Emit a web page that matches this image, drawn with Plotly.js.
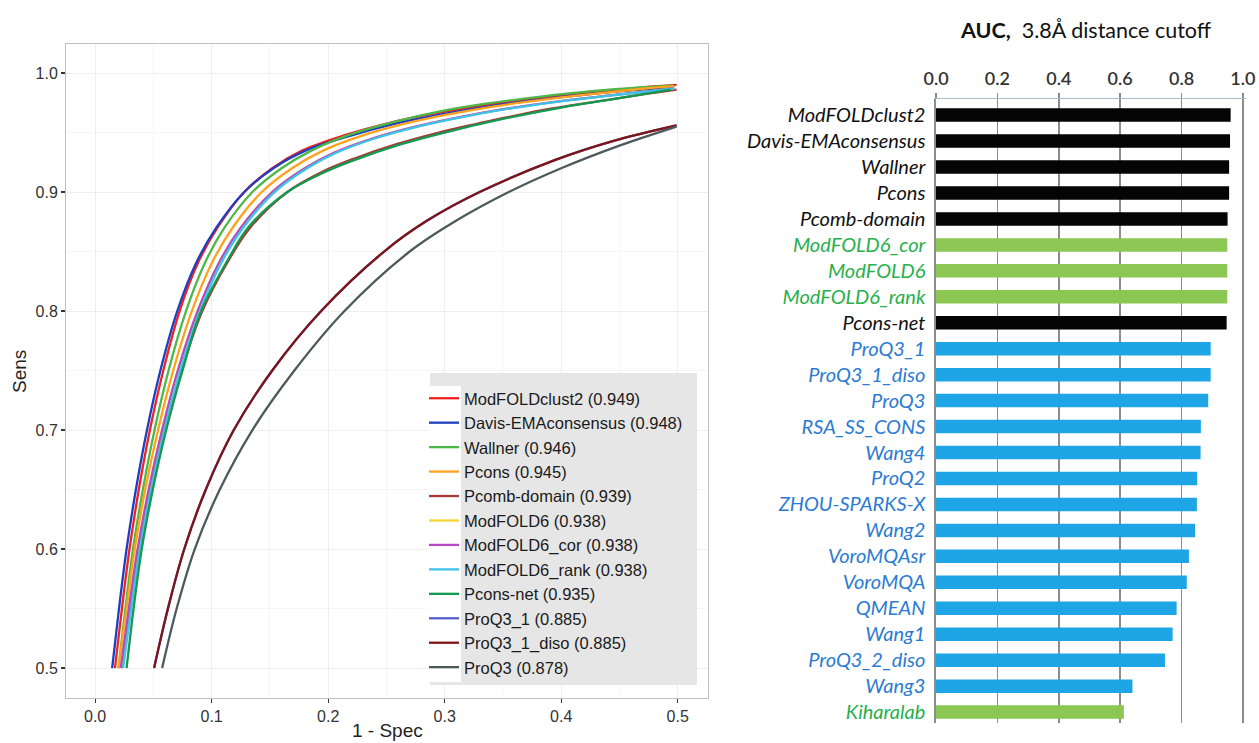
<!DOCTYPE html>
<html>
<head>
<meta charset="utf-8">
<script src="https://cdn.plot.ly/plotly-3.0.1.min.js"></script>
<style>
html,body{margin:0;padding:0;background:#fff;}
#chart{width:1259px;height:743px;}
</style>
</head>
<body>
<div id="chart"></div>
<script>
// ---------- Left panel: ROC curves (x = 1 - Spec, y = Sens) ----------
const curveNames = ["ModFOLDclust2","Davis-EMAconsensus","Wallner","Pcons","Pcomb-domain","ModFOLD6","ModFOLD6_cor","ModFOLD6_rank","Pcons-net","ProQ3_1","ProQ3_1_diso","ProQ3"];
const curveAUC = ["0.949","0.948","0.946","0.945","0.939","0.938","0.938","0.938","0.935","0.885","0.885","0.878"];
const curveColors = ["#ee2222","#1f3fbf","#4db848","#ffa21e","#a83a34","#f7d330","#b54bc2","#3ec3ea","#139a52","#5561c8","#7d1416","#4d5a5c"];

const modfoldclust2X = [0.017,0.023,0.0295,0.0375,0.047,0.0585,0.0725,0.088,0.105,0.128,0.152,0.178,0.215,0.252,0.292,0.335,0.382,0.428,0.470,0.499];
const modfoldclust2Y = [0.500,0.550,0.600,0.650,0.700,0.750,0.800,0.840,0.870,0.900,0.920,0.935,0.948,0.958,0.966,0.973,0.979,0.984,0.988,0.990];
const davisX = [0.0146,0.0205,0.027,0.035,0.0445,0.056,0.0705,0.0865,0.104,0.128,0.153,0.181,0.218,0.256,0.296,0.338,0.385,0.431,0.469,0.497];
const davisY = [0.500,0.550,0.600,0.650,0.700,0.750,0.800,0.840,0.870,0.900,0.920,0.935,0.947,0.957,0.965,0.972,0.978,0.983,0.986,0.988];
const wallnerX = [0.020,0.026,0.0325,0.041,0.051,0.063,0.078,0.094,0.111,0.135,0.160,0.186,0.218,0.253,0.292,0.334,0.381,0.428,0.468,0.496];
const wallnerY = [0.500,0.550,0.600,0.650,0.700,0.750,0.800,0.840,0.870,0.900,0.920,0.935,0.948,0.958,0.967,0.974,0.980,0.985,0.988,0.9895];
const pconsX = [0.020,0.027,0.034,0.043,0.054,0.067,0.083,0.100,0.118,0.143,0.169,0.196,0.228,0.264,0.302,0.343,0.388,0.433,0.472,0.497];
const pconsY = [0.500,0.550,0.600,0.650,0.700,0.750,0.800,0.840,0.870,0.900,0.920,0.935,0.947,0.957,0.965,0.972,0.978,0.983,0.987,0.989];
const pcombX = [0.023,0.030,0.037,0.047,0.059,0.074,0.092,0.113,0.133,0.165,0.195,0.222,0.258,0.295,0.340,0.385,0.430,0.470,0.499];
const pcombY = [0.500,0.550,0.600,0.650,0.700,0.750,0.800,0.840,0.870,0.900,0.917,0.928,0.940,0.950,0.960,0.969,0.976,0.982,0.986];
const modfold6X = [0.022,0.029,0.0365,0.046,0.0575,0.071,0.088,0.106,0.125,0.152,0.180,0.205,0.238,0.275,0.313,0.353,0.396,0.440,0.478,0.497];
const modfold6Y = [0.500,0.550,0.600,0.650,0.700,0.750,0.800,0.840,0.870,0.900,0.920,0.933,0.945,0.955,0.963,0.970,0.976,0.981,0.985,0.987];
const modfold6corX = [0.022,0.029,0.0365,0.046,0.0575,0.071,0.088,0.106,0.125,0.152,0.180,0.205,0.238,0.275,0.313,0.353,0.396,0.440,0.478,0.497];
const modfold6corY = [0.500,0.550,0.600,0.650,0.700,0.750,0.800,0.840,0.870,0.900,0.920,0.933,0.945,0.955,0.963,0.970,0.976,0.981,0.985,0.987];
const modfold6rankX = [0.024,0.031,0.0385,0.048,0.0595,0.073,0.090,0.108,0.127,0.154,0.182,0.207,0.240,0.277,0.315,0.355,0.398,0.442,0.479,0.497];
const modfold6rankY = [0.500,0.550,0.600,0.650,0.700,0.750,0.800,0.840,0.870,0.900,0.920,0.933,0.945,0.955,0.963,0.970,0.976,0.981,0.985,0.987];
const pconsnetX = [0.027,0.033,0.040,0.0495,0.061,0.075,0.091,0.115,0.132,0.165,0.193,0.220,0.262,0.300,0.348,0.400,0.450,0.494];
const pconsnetY = [0.500,0.550,0.600,0.650,0.700,0.750,0.800,0.845,0.871,0.900,0.915,0.926,0.940,0.950,0.961,0.971,0.979,0.986];
const proq31X = [0.0506,0.0625,0.0765,0.095,0.119,0.152,0.194,0.248,0.285,0.330,0.395,0.445,0.499];
const proq31Y = [0.500,0.550,0.600,0.650,0.700,0.750,0.800,0.850,0.876,0.900,0.927,0.943,0.956];
const proq31disoX = [0.0506,0.0625,0.0765,0.095,0.119,0.152,0.194,0.248,0.285,0.330,0.395,0.445,0.499];
const proq31disoY = [0.500,0.550,0.600,0.650,0.700,0.750,0.800,0.850,0.876,0.900,0.927,0.943,0.956];
const proq3X = [0.0575,0.070,0.0855,0.107,0.135,0.171,0.214,0.270,0.310,0.355,0.400,0.450,0.499];
const proq3Y = [0.500,0.550,0.600,0.650,0.700,0.750,0.800,0.850,0.876,0.900,0.920,0.939,0.955];

const curveXs = [modfoldclust2X,davisX,wallnerX,pconsX,pcombX,modfold6X,modfold6corX,modfold6rankX,pconsnetX,proq31X,proq31disoX,proq3X];
const curveYs = [modfoldclust2Y,davisY,wallnerY,pconsY,pcombY,modfold6Y,modfold6corY,modfold6rankY,pconsnetY,proq31Y,proq31disoY,proq3Y];

// ---------- Right panel: AUC bars ----------
const methods = ["ModFOLDclust2","Davis-EMAconsensus","Wallner","Pcons","Pcomb-domain","ModFOLD6_cor","ModFOLD6","ModFOLD6_rank","Pcons-net","ProQ3_1","ProQ3_1_diso","ProQ3","RSA_SS_CONS","Wang4","ProQ2","ZHOU-SPARKS-X","Wang2","VoroMQAsr","VoroMQA","QMEAN","Wang1","ProQ3_2_diso","Wang3","Kiharalab"];
const aucValues = [0.960,0.958,0.955,0.955,0.950,0.949,0.949,0.949,0.947,0.895,0.895,0.887,0.863,0.862,0.851,0.850,0.844,0.824,0.817,0.784,0.771,0.746,0.640,0.612];
const methodGroup = ["k","k","k","k","k","g","g","g","k","b","b","b","b","b","b","b","b","b","b","b","b","b","b","g"];
const xTicks = [0.0,0.2,0.4,0.6,0.8,1.0];

const barColor = {k:"#050505", g:"#8cc653", b:"#1ea5e6"};
const labelColor = {k:"#111111", g:"#27b04c", b:"#2b7bd2"};

const W = 1259, H = 743;
const px = v => v / W, py = v => 1 - v / H;

const traces = [];
curveNames.forEach((n, i) => {
  traces.push({
    type: "scatter", mode: "lines",
    x: curveXs[i], y: curveYs[i],
    name: n + " (" + curveAUC[i] + ")",
    line: {color: curveColors[i], width: 2.3, shape: "spline", smoothing: 1},
    xaxis: "x", yaxis: "y", hoverinfo: "skip"
  });
});

traces.push({
  type: "bar", orientation: "h",
  x: aucValues, y: methods.map((m, i) => i),
  width: 0.52,
  marker: {color: methodGroup.map(g => barColor[g]), line: {width: 0}},
  xaxis: "x2", yaxis: "y2", showlegend: false, hoverinfo: "skip"
});

const layout = {
  width: W, height: H,
  margin: {l: 0, r: 0, t: 0, b: 0},
  paper_bgcolor: "#ffffff",
  plot_bgcolor: "#ffffff",
  font: {family: "Liberation Sans, Arial, sans-serif", color: "#333"},
  showlegend: true,
  legend: {
    x: px(424), y: py(381), xanchor: "left", yanchor: "top",
    bgcolor: "rgba(0,0,0,0)", borderwidth: 0,
    font: {family: "Liberation Sans, Arial, sans-serif", size: 16.5, color: "#1a1a1a"},
    traceorder: "normal", itemwidth: 30
  },
  xaxis: {
    domain: [px(66), px(708)], range: [-0.025, 0.526],
    tickvals: [0, 0.1, 0.2, 0.3, 0.4, 0.5], ticktext: ["0.0","0.1","0.2","0.3","0.4","0.5"],
    ticks: "outside", ticklen: 4, tickcolor: "#333", tickwidth: 1.2,
    tickfont: {size: 16, color: "#333"},
    showgrid: true, gridcolor: "#eeeeee", gridwidth: 1,
    minor: {showgrid: true, gridcolor: "#f6f6f6", dtick: 0.05},
    showline: true, mirror: true, linecolor: "#b9c2ca", linewidth: 1,
    zeroline: false, anchor: "y", fixedrange: true
  },
  yaxis: {
    domain: [py(698), py(44)], range: [0.4748, 1.0244],
    tickvals: [0.5, 0.6, 0.7, 0.8, 0.9, 1.0], ticktext: ["0.5","0.6","0.7","0.8","0.9","1.0"],
    ticks: "outside", ticklen: 4, tickcolor: "#333", tickwidth: 1.2,
    tickfont: {size: 16, color: "#333"},
    showgrid: true, gridcolor: "#eeeeee", gridwidth: 1,
    minor: {showgrid: true, gridcolor: "#f6f6f6", dtick: 0.05},
    showline: true, mirror: true, linecolor: "#b9c2ca", linewidth: 1,
    zeroline: false, anchor: "x", fixedrange: true
  },
  xaxis2: {
    domain: [px(936), px(1246)], range: [0, 1.01],
    side: "top", anchor: "y2",
    tickvals: xTicks, ticktext: xTicks.map(v => v.toFixed(1)),
    ticks: "outside", ticklen: 5, tickcolor: "#8a8a8a", tickwidth: 1.5,
    tickfont: {family: "Lato, sans-serif", size: 18, color: "#333", weight: 600},
    showgrid: true, gridcolor: "#8c8c8c", gridwidth: 1.6,
    showline: true, linecolor: "#a9bfd0", linewidth: 1.5,
    zeroline: false, fixedrange: true
  },
  yaxis2: {
    domain: [py(723), py(99)], range: [23.42, -0.62],
    anchor: "x2",
    tickvals: methods.map((m, i) => i),
    ticktext: methods.map((m, i) => "<span style='color:" + labelColor[methodGroup[i]] + "'><i>" + m + "</i></span>"),
    ticks: "", ticklabelstandoff: 5,
    tickfont: {family: "Lato, sans-serif", size: 20, color: "#111"},
    showgrid: false, showline: true, linecolor: "#8c8c8c", linewidth: 1.6,
    zeroline: false, fixedrange: true
  },
  shapes: [
    {type: "rect", xref: "paper", yref: "paper", x0: px(430), x1: px(697), y0: py(685), y1: py(373),
     fillcolor: "#e6e6e6", line: {width: 0}, layer: "above"},
    {type: "rect", xref: "paper", yref: "paper", x0: px(428), x1: px(461), y0: py(682), y1: py(386),
     fillcolor: "#ffffff", line: {width: 0}, layer: "above"}
  ],
  annotations: [
    {text: "Sens", xref: "paper", yref: "paper", x: px(20), y: py(372), textangle: -90,
     showarrow: false, xanchor: "center", yanchor: "middle",
     font: {family: "Liberation Sans, Arial, sans-serif", size: 19, color: "#222"}},
    {text: "1 - Spec", xref: "paper", yref: "paper", x: px(387), y: py(742),
     showarrow: false, xanchor: "center", yanchor: "bottom", borderpad: 0,
     font: {family: "Liberation Sans, Arial, sans-serif", size: 19, color: "#222"}},
    {text: "<b>AUC,</b>  3.8Å distance cutoff", xref: "paper", yref: "paper", x: px(1086), y: py(30),
     showarrow: false, xanchor: "center", yanchor: "middle",
     font: {family: "Lato, sans-serif", size: 21.5, color: "#111"}}
  ]
};

Plotly.newPlot("chart", traces, layout, {displayModeBar: false, staticPlot: true});
</script>
</body>
</html>
